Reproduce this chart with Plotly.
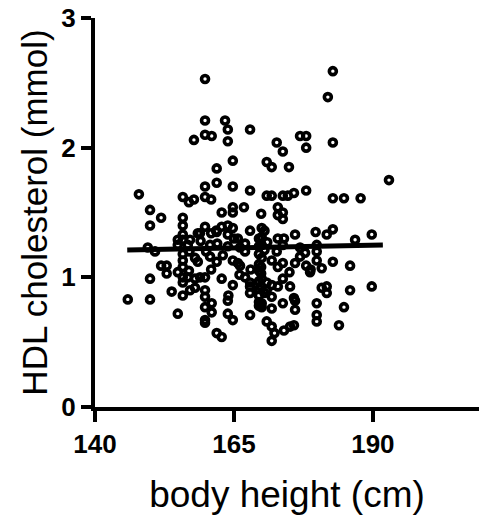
import plotly.graph_objects as go

height = [
    159.8, 182.8, 181.9, 159.8, 163.4, 159.8, 161.0, 163.9, 163.9, 167.9,
    172.7, 173.8, 176.9, 178.0, 178.0, 182.8, 170.9, 171.8, 174.9, 161.9,
    164.8, 192.9, 157.8, 147.9, 159.8, 155.8, 161.9, 164.8, 167.9, 178.0,
    170.9, 171.8, 173.8, 175.8, 182.8, 184.8, 187.8, 156.9, 157.8, 159.8,
    160.9, 174.7,
    149.9, 151.9, 149.9, 155.8, 155.8, 162.8, 164.8, 164.8, 166.8, 169.9,
    172.9, 172.9, 173.8, 173.8,
    159.8, 158.9, 161.9, 162.8, 163.9, 164.8, 163.9, 165.7, 167.9, 170.0,
    170.0, 172.9, 176.0, 179.7, 181.7, 182.8, 186.8, 189.8, 154.9, 155.8,
    157.1, 154.9, 156.7, 149.5, 150.8, 158.5, 160.7, 167.0, 170.0, 173.8,
    176.9, 179.9, 166.1, 163.9, 160.9, 161.8,
    151.9, 152.9, 152.9, 149.9, 145.9, 149.9, 153.8, 154.9, 155.8, 154.9,
    155.8, 155.8, 155.8, 155.8, 156.7, 158.0, 158.0, 157.1, 158.5, 160.7,
    161.9, 164.8, 165.7, 167.0, 170.0, 172.7, 171.8, 173.8, 176.0, 166.1,
    169.9, 172.9, 176.9, 178.0, 178.8, 179.9, 180.8, 182.8, 185.9, 177.8,
    179.9, 178.7,
    158.9, 159.8, 162.8, 164.8, 167.0, 167.9, 170.0, 170.9, 172.9, 173.8,
    175.1, 167.9, 169.9, 169.9, 171.8, 175.8, 179.9, 180.8, 181.7, 181.7,
    185.9, 189.8, 184.8, 159.8, 159.8, 161.0, 159.8, 159.8, 159.8, 161.0,
    163.9, 163.9, 164.8, 167.9, 167.9, 170.0, 170.0, 171.8, 173.8, 176.0,
    176.0, 171.8, 170.9, 170.9, 171.8, 172.3, 174.0, 171.8, 175.1, 175.8,
    179.9, 179.9, 183.9, 161.9, 162.8,
    169.5, 169.5, 169.5, 169.5, 169.5, 169.5, 169.5, 169.5, 169.5, 169.5,
    155.8, 155.8, 157.0, 158.0, 159.0, 156.9, 160.0, 160.9, 162.0, 163.0,
    166.0, 168.0, 165.0, 171.0, 174.0, 175.0, 170.5, 170.5, 170.5, 164.0,
]

hdl = [
    2.53, 2.59, 2.39, 2.21, 2.21, 2.10, 2.09, 2.14, 2.05, 2.14,
    2.04, 1.97, 2.09, 2.09, 2.00, 2.04, 1.89, 1.85, 1.85, 1.84,
    1.90, 1.75, 2.06, 1.64, 1.70, 1.62, 1.73, 1.70, 1.67, 1.67,
    1.63, 1.63, 1.63, 1.65, 1.61, 1.61, 1.61, 1.58, 1.60, 1.62,
    1.60, 1.63,
    1.52, 1.46, 1.40, 1.46, 1.40, 1.50, 1.54, 1.50, 1.54, 1.49,
    1.54, 1.48, 1.50, 1.45,
    1.39, 1.34, 1.35, 1.39, 1.40, 1.38, 1.33, 1.30, 1.36, 1.38,
    1.31, 1.30, 1.33, 1.35, 1.33, 1.37, 1.29, 1.33, 1.29, 1.29,
    1.29, 1.25, 1.25, 1.23, 1.20, 1.34, 1.25, 1.26, 1.25, 1.25,
    1.23, 1.25, 1.23, 1.24, 1.34, 1.36,
    1.09, 1.09, 1.03, 0.99, 0.83, 0.83, 0.89, 0.72, 0.86, 1.04,
    1.13, 1.08, 1.00, 0.96, 1.00, 0.99, 0.92, 0.90, 1.12, 1.16,
    1.12, 1.13, 1.11, 1.20, 1.15, 1.20, 1.13, 1.11, 1.11, 1.09,
    1.08, 1.08, 1.16, 1.09, 1.06, 1.13, 1.07, 1.12, 1.09, 1.19,
    1.20, 1.04,
    1.00, 1.00, 0.99, 0.94, 1.00, 0.96, 0.99, 0.96, 0.93, 0.99,
    0.93, 0.93, 1.03, 0.93, 0.94, 0.84, 0.80, 0.92, 0.93, 0.88,
    0.90, 0.93, 0.77, 0.90, 0.85, 0.80, 0.77, 0.67, 0.65, 0.73,
    0.82, 0.72, 0.67, 0.88, 0.71, 0.80, 0.77, 0.76, 0.80, 0.82,
    0.75, 0.85, 0.90, 0.66, 0.62, 0.57, 0.59, 0.51, 0.62, 0.63,
    0.71, 0.66, 0.63, 0.57, 0.54,
    1.30, 1.24, 1.18, 1.10, 1.05, 0.97, 0.91, 0.86, 0.81, 0.78,
    1.33, 1.18, 1.20, 1.15, 1.28, 1.05, 1.20, 1.06, 1.26, 1.17,
    1.02, 1.06, 1.30, 1.27, 1.30, 1.04, 0.88, 1.21, 1.36, 0.86,
]

fit_x = [145.8, 191.8]
fit_y = [1.21, 1.25]

x_ticks = [140, 165, 190]
y_ticks = [0, 1, 2, 3]

fig = go.Figure()
fig.add_trace(go.Scatter(
    x=height, y=hdl, mode="markers",
    marker=dict(symbol="circle-open", size=7, color="black",
                line=dict(width=3.6, color="black")),
    cliponaxis=False, showlegend=False,
))
fig.add_trace(go.Scatter(
    x=fit_x, y=fit_y, mode="lines",
    line=dict(color="black", width=5),
    showlegend=False,
))

axis_font = dict(family="Liberation Sans", size=26, color="black")
xtitle_font = dict(family="Liberation Sans", size=37, color="black")
ytitle_font = dict(family="Liberation Sans", size=35, color="black")

fig.update_layout(
    width=479, height=515,
    margin=dict(l=95, r=0, t=18, b=108),
    plot_bgcolor="white", paper_bgcolor="white",
    xaxis=dict(
        range=[140, 209.1], tickvals=x_ticks, ticktext=[f"<b>{v}</b>" for v in x_ticks],
        showline=True, linewidth=4, linecolor="black",
        ticks="outside", ticklen=11, tickwidth=4, tickcolor="black",
        showgrid=False, zeroline=False, tickfont=axis_font,
        title=dict(text="body height (cm)", font=xtitle_font, standoff=26),
    ),
    yaxis=dict(
        range=[0, 3], tickvals=y_ticks, ticktext=[f"<b>{v}</b>" for v in y_ticks],
        showline=True, linewidth=4, linecolor="black",
        ticks="outside", ticklen=10, tickwidth=4, tickcolor="black",
        showgrid=False, zeroline=False, tickfont=axis_font,
        title=dict(text="HDL cholesterol (mmol)", font=ytitle_font, standoff=4),
    ),
)

fig.write_html("out.html")
